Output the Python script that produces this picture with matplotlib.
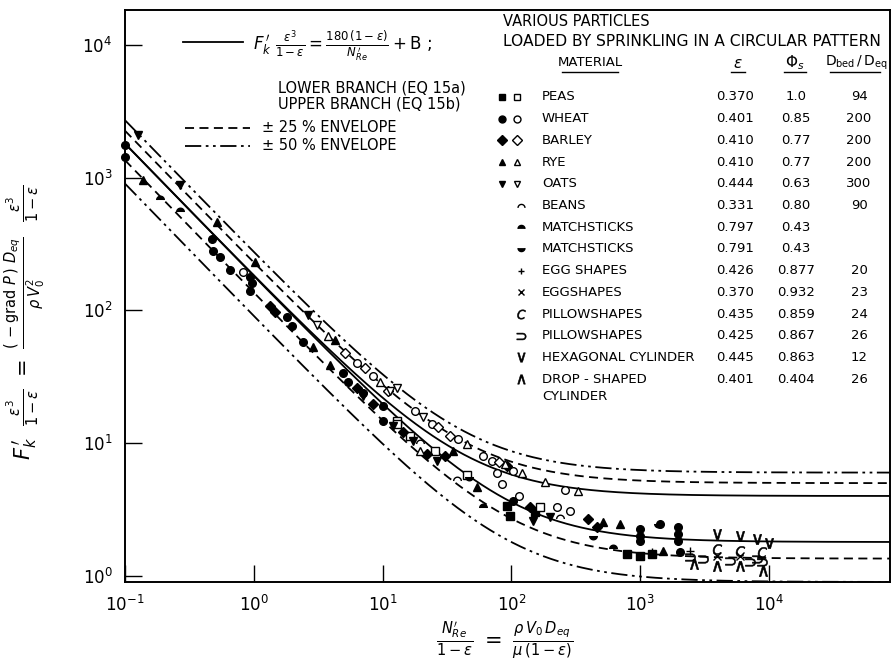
import numpy as np
import matplotlib.pyplot as plt
from matplotlib.lines import Line2D

# model: F'k eps^3/(1-eps) = A / x + B
A_COEF = 180.0
B_LOWER = 1.8
B_UPPER = 4.0
X_MIN, X_MAX = 0.1, 8.7e4
Y_MIN, Y_MAX = 0.9, 1.83e4

# data: x = N'Re/(1-eps), y = F'k eps^3/(1-eps)
peas_fill_x = [97, 152, 793, 1000, 1240, 92]
peas_fill_y = [2.83, 3.03, 1.46, 1.41, 1.46, 3.36]
peas_open_x = [12.9, 16.3, 25.6, 45, 167, 12.9]
peas_open_y = [14.6, 11.3, 8.7, 5.8, 3.3, 13.9]

wheat_fill_x = [0.1, 0.1, 0.47, 0.48, 0.55, 0.655, 0.93, 0.97, 0.93, 1.81, 1.98, 2.42,
                4.93, 5.35, 7.0, 10.1, 10.1, 103, 1000, 1000, 1000, 1970, 1970, 1970, 2040, 1430]
wheat_fill_y = [1770, 1440, 342, 278, 254, 203, 178, 162, 139, 89, 76, 58,
                34, 29, 24, 19, 14.6, 3.66, 2.26, 2.0, 1.83, 2.34, 2.07, 1.83, 1.51, 2.46]
wheat_open_x = [0.83, 6.34, 8.44, 17.9, 24.2, 38.6, 60, 71, 103, 261, 85, 115, 226, 283, 77]
wheat_open_y = [193, 40, 32, 17.4, 13.9, 10.7, 8.0, 7.3, 6.2, 4.4, 4.9, 4.0, 3.3, 3.08, 6.0]

barley_fill_x = [1.34, 1.46, 6.34, 8.4, 14.4, 22, 30.5, 140, 394, 463, 92.7]
barley_fill_y = [107, 98, 26, 19.7, 12.1, 8.3, 8.0, 3.3, 2.68, 2.34, 6.7]
barley_open_x = [5.12, 7.31, 11.0, 27.0, 33.4, 80]
barley_open_y = [48, 37, 24.6, 13.2, 11.3, 7.2]

rye_fill_x = [0.138, 0.519, 1.02, 2.88, 3.91, 4.27, 54, 516, 700, 1500, 35.3]
rye_fill_y = [967, 467, 233, 53, 39, 60, 4.67, 2.55, 2.46, 1.54, 8.7]
rye_open_x = [3.78, 9.55, 19.5, 45, 89, 120, 183, 330]
rye_open_y = [64, 29, 8.7, 9.8, 6.95, 6.0, 5.1, 4.35]

oats_fill_x = [0.126, 0.267, 2.64, 7.06, 12.0, 17.2, 147, 200, 26.4]
oats_fill_y = [2100, 886, 93, 22.5, 13.4, 10.4, 2.6, 2.78, 7.3]
oats_open_x = [3.10, 11.4, 12.9, 20.6]
oats_open_y = [77, 24.6, 26, 15.7]

beans_x = [19.5, 37.8, 239]
beans_y = [10.2, 5.36, 2.78]
match1_x = [0.187, 0.267, 60, 617]
match1_y = [707, 575, 3.36, 1.65]
match2_x = [47, 430, 1380]
match2_y = [5.5, 1.96, 2.42]
egg1_x = [1240, 2440]
egg1_y = [1.52, 1.54]
egg2_x = [1000, 3960, 5990]
egg2_y = [1.41, 1.41, 1.41]
pillow1_x = [3960, 5990, 8900]
pillow1_y = [1.6, 1.54, 1.51]
pillow2_x = [2440, 3090, 4990, 7170, 8100, 8900]
pillow2_y = [1.39, 1.34, 1.30, 1.27, 1.34, 1.27]
hexcyl_x = [3960, 5990, 8100, 10000]
hexcyl_y = [2.07, 2.0, 1.9, 1.77]
dropcyl_x = [2600, 3960, 5990, 9000]
dropcyl_y = [1.23, 1.19, 1.19, 1.09]

# table
materials = ['PEAS', 'WHEAT', 'BARLEY', 'RYE', 'OATS', 'BEANS', 'MATCHSTICKS', 'MATCHSTICKS',
             'EGG SHAPES', 'EGGSHAPES', 'PILLOWSHAPES', 'PILLOWSHAPES', 'HEXAGONAL CYLINDER',
             'DROP - SHAPED']
eps_vals = ['0.370', '0.401', '0.410', '0.410', '0.444', '0.331', '0.797', '0.791',
            '0.426', '0.370', '0.435', '0.425', '0.445', '0.401']
phi_vals = ['1.0', '0.85', '0.77', '0.77', '0.63', '0.80', '0.43', '0.43',
            '0.877', '0.932', '0.859', '0.867', '0.863', '0.404']
d_ratio = ['94', '200', '200', '200', '300', '90', '', '', '20', '23', '24', '26', '12', '26']

t = np.linspace(0, np.pi, 24)
dome = list(zip(np.cos(t), np.sin(t) - 0.4))
bowl = list(zip(np.cos(t), -np.sin(t) + 0.4))
glyphs = ['$C$', '$\\supset$', '$\\vee$', '$\\wedge$']

W, H = 894, 670
fig = plt.figure(figsize=(8.94, 6.70), dpi=100)
ax = fig.add_axes([125 / W, 1 - 582 / H, (890 - 125) / W, (582 - 10) / H])


def fp(px, py):
    return px / W, 1 - py / H


def mark_style(mk, filled, size=5.5):
    if mk in glyphs:
        return dict(marker=mk, ms=size * 1.35, mfc='black', mec='black', mew=0.4)
    return dict(marker=mk, ms=size, mfc='black' if filled else 'white', mec='black', mew=1.0)


ls_dash = (0, (5, 3))
ls_dashdot = (0, (9, 2.5, 1.5, 2.5, 1.5, 2.5))

xs = np.logspace(np.log10(X_MIN), np.log10(X_MAX), 500)
lower = A_COEF / xs + B_LOWER
upper = A_COEF / xs + B_UPPER
ax.plot(xs, lower, color='black', lw=1.3)
ax.plot(xs, upper, color='black', lw=1.3)
ax.plot(xs, lower * 0.75, color='black', lw=1.3, ls=ls_dash)
ax.plot(xs, upper * 1.25, color='black', lw=1.3, ls=ls_dash)
ax.plot(xs, lower * 0.5, color='black', lw=1.3, ls=ls_dashdot)
ax.plot(xs, upper * 1.5, color='black', lw=1.3, ls=ls_dashdot)

series = [
    (peas_fill_x, peas_fill_y, 's', True),
    (peas_open_x, peas_open_y, 's', False),
    (wheat_fill_x, wheat_fill_y, 'o', True),
    (wheat_open_x, wheat_open_y, 'o', False),
    (barley_fill_x, barley_fill_y, 'D', True),
    (barley_open_x, barley_open_y, 'D', False),
    (rye_fill_x, rye_fill_y, '^', True),
    (rye_open_x, rye_open_y, '^', False),
    (oats_fill_x, oats_fill_y, 'v', True),
    (oats_open_x, oats_open_y, 'v', False),
    (beans_x, beans_y, dome, False),
    (match1_x, match1_y, dome, True),
    (match2_x, match2_y, bowl, True),
    (egg1_x, egg1_y, '+', True),
    (egg2_x, egg2_y, 'x', True),
    (pillow1_x, pillow1_y, glyphs[0], True),
    (pillow2_x, pillow2_y, glyphs[1], True),
    (hexcyl_x, hexcyl_y, glyphs[2], True),
    (dropcyl_x, dropcyl_y, glyphs[3], True),
]
for sx, sy, mk, filled in series:
    ax.plot(sx, sy, ls='none', clip_on=False, **mark_style(mk, filled))

ax.set_xscale('log')
ax.set_yscale('log')
ax.set_xlim(X_MIN, X_MAX)
ax.set_ylim(Y_MIN, Y_MAX)
ax.set_xticks([1e-1, 1e0, 1e1, 1e2, 1e3, 1e4])
ax.set_yticks([1e0, 1e1, 1e2, 1e3, 1e4])
ax.minorticks_off()
ax.tick_params(which='major', direction='in', length=12, width=1.0, labelsize=12, pad=9)
for sp in ax.spines.values():
    sp.set_linewidth(1.4)

ax.set_ylabel(r'$F_k^{\,\prime}\ \ \frac{\epsilon^3}{1-\epsilon}\ =\ '
              r'\frac{(\,-\mathrm{grad}\ P\,)\ D_{eq}}{\rho\, V_0^2}\ \ \frac{\epsilon^3}{1-\epsilon}$',
              fontsize=15)
ax.yaxis.set_label_coords(48 / W, fp(0, 322)[1], transform=fig.transFigure)
fig.text(*fp(505, 640), r'$\frac{N_{Re}^{\prime}}{1-\epsilon}\ =\ \frac{\rho\, V_0\, D_{eq}}{\mu\,(1-\epsilon)}$',
         fontsize=15, ha='center', va='center')

# left legend
txt = dict(fontsize=9.5, color='black', va='center')
head = dict(fontsize=10.5, color='black', va='center')
fig.add_artist(Line2D(*zip(fp(183, 42), fp(243, 42)), color='black', lw=1.3))
fig.add_artist(Line2D(*zip(fp(185, 128), fp(250, 128)), color='black', lw=1.3, ls=ls_dash))
fig.add_artist(Line2D(*zip(fp(185, 146), fp(250, 146)), color='black', lw=1.3, ls=ls_dashdot))
fig.text(*fp(253, 46), r'$F_k^{\,\prime}\ \frac{\epsilon^3}{1-\epsilon} = \frac{180\,(1-\epsilon)}{N_{Re}^{\,\prime}}'
         r' + \mathrm{B}\ ;$', fontsize=12, ha='left', va='center')
fig.text(*fp(278, 88), 'LOWER BRANCH (EQ 15a)', ha='left', **head)
fig.text(*fp(278, 104), 'UPPER BRANCH (EQ 15b)', ha='left', **head)
fig.text(*fp(262, 128), '\u00b1 25 % ENVELOPE', ha='left', **head)
fig.text(*fp(262, 146), '\u00b1 50 % ENVELOPE', ha='left', **head)

# right table
fig.text(*fp(503, 22), 'VARIOUS PARTICLES', ha='left', **head)
fig.text(*fp(503, 42), 'LOADED BY SPRINKLING IN A CIRCULAR PATTERN', ha='left', fontsize=11.2,
         va='center')
fig.text(*fp(590, 63), 'MATERIAL', ha='center', **txt)
fig.text(*fp(738, 63), r'$\epsilon$', ha='center', fontsize=11, va='center')
fig.text(*fp(795, 63), r'$\Phi_s$', ha='center', fontsize=11, va='center')
fig.text(*fp(856, 63), r'$\mathrm{D_{bed}\,/\,D_{eq}}$', ha='center', fontsize=10, va='center')
for x0, x1 in [(562, 618), (731, 745), (784, 806), (830, 880)]:
    fig.add_artist(Line2D(*zip(fp(x0, 72), fp(x1, 72)), color='black', lw=1.0))

row_marks = [('s', 's'), ('o', 'o'), ('D', 'D'), ('^', '^'), ('v', 'v'), (None, dome),
             (None, dome), (None, bowl), (None, '+'), (None, 'x'), (None, glyphs[0]),
             (None, glyphs[1]), (None, glyphs[2]), (None, glyphs[3])]
single_fill = [False, True, True, True, True, True, True, True, True]
for i, name in enumerate(materials):
    py = 97 + 21.7 * i
    mk_f, mk_o = row_marks[i]
    if mk_f is not None:
        fig.add_artist(Line2D([fp(502, py)[0]], [fp(502, py)[1]], ls='none',
                              **mark_style(mk_f, True, 5)))
        fig.add_artist(Line2D([fp(517, py)[0]], [fp(517, py)[1]], ls='none',
                              **mark_style(mk_o, False, 5)))
    else:
        filled = single_fill[i - 5]
        fig.add_artist(Line2D([fp(521, py)[0]], [fp(521, py)[1]], ls='none',
                              **mark_style(mk_o, filled, 5)))
    fig.text(*fp(542, py), name, ha='left', **txt)
    fig.text(*fp(735, py), eps_vals[i], ha='center', **txt)
    fig.text(*fp(796, py), phi_vals[i], ha='center', **txt)
    fig.text(*fp(859, py), d_ratio[i], ha='center', **txt)
fig.text(*fp(542, 97 + 21.7 * 13 + 17), 'CYLINDER', ha='left', **txt)

fig.savefig('out.png', dpi=100)
plt.close(fig)
